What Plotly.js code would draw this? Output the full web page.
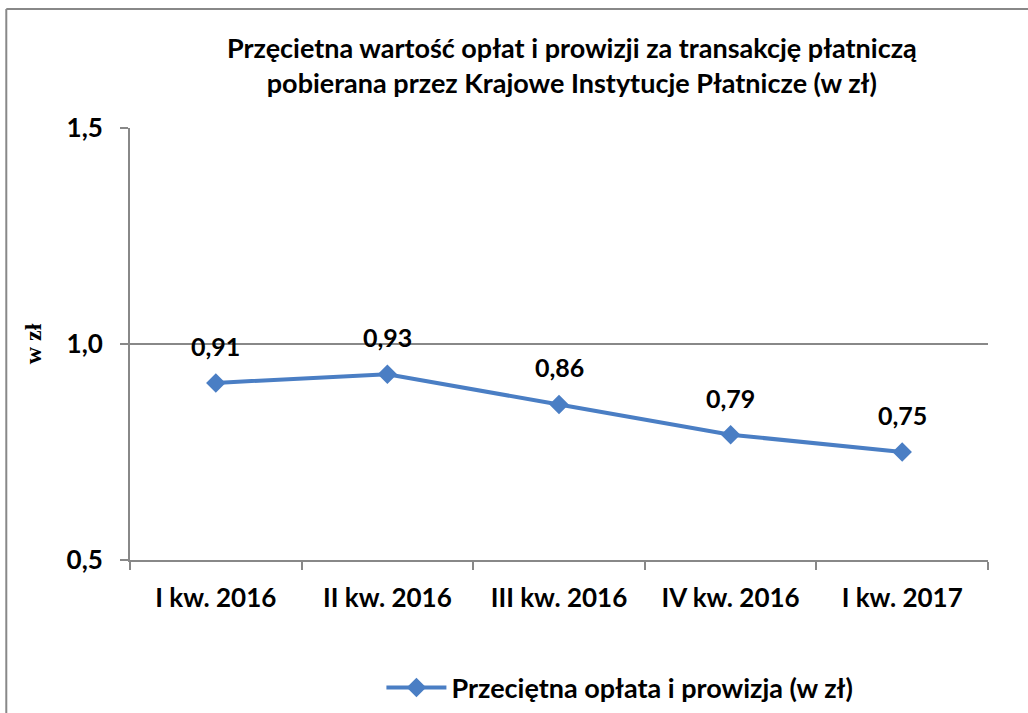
<!DOCTYPE html>
<html><head><meta charset="utf-8">
<script src="https://cdn.plot.ly/plotly-3.0.1.min.js"></script>
<style>html,body{margin:0;padding:0;background:#fff}#chart{width:1028px;height:713px}</style>
</head><body><div id="chart"></div>
<script>
const categories = ["I kw. 2016", "II kw. 2016", "III kw. 2016", "IV kw. 2016", "I kw. 2017"];
const values = [0.91, 0.93, 0.86, 0.79, 0.75];
const labels = ["0,91", "0,93", "0,86", "0,79", "0,75"];
const seriesName = "Przeciętna opłata i prowizja (w zł)";
const titleText = "Przęcietna wartość opłat i prowizji za transakcję płatniczą<br>pobierana przez Krajowe Instytucje Płatnicze (w zł)";
const yTitle = "w zł";

const blue = "#4A7EC4";
const font = "Lato, 'Open Sans', sans-serif";

const trace = {
  x: categories, y: values, type: "scatter", mode: "lines+markers",
  name: seriesName,
  line: {color: blue, width: 4},
  marker: {symbol: "diamond", size: 15, color: blue},
  hoverinfo: "none"
};

const annotations = categories.map((c, i) => ({
  x: c, y: values[i], xref: "x", yref: "y", text: "<b>" + labels[i] + "</b>",
  showarrow: false, yshift: 37, font: {family: font, size: 25, color: "#000"}
}));

const layout = {
  width: 1028, height: 713,
  margin: {l: 130, r: 40, t: 128, b: 153},
  paper_bgcolor: "#fff", plot_bgcolor: "#fff",
  title: {text: "<b>" + titleText + "</b>", x: 0.515, xanchor: "center", xref: "paper",
          y: 0.919, yanchor: "middle", yref: "container",
          font: {family: font, size: 27, color: "#000"}},
  xaxis: {type: "category", range: [-0.5, 4.5], autorange: false, showgrid: false, showline: true,
          linecolor: "#888", linewidth: 2, ticklabelstandoff: 14,
          ticks: "outside", tickson: "boundaries", ticklen: 8, tickcolor: "#888", tickwidth: 2,
          tickfont: {family: font, size: 26, color: "#000", weight: "bold"}, fixedrange: true},
  yaxis: {range: [0.5, 1.5], autorange: false, dtick: 0.5, tick0: 0.5, showgrid: true, gridcolor: "#888", gridwidth: 2,
          showline: true, linecolor: "#888", linewidth: 2, ticks: "outside", ticklen: 8,
          tickcolor: "#888", tickwidth: 2, zeroline: false, ticklabelstandoff: 12,
          tickformat: ".1f",
          tickfont: {family: font, size: 26, color: "#000", weight: "bold"},
          title: {text: "<b>" + yTitle + "</b>", standoff: 18,
                  font: {family: "'Liberation Serif', 'DejaVu Serif', serif", size: 24, color: "#000"}}},
  separators: ",.",
  showlegend: true,
  legend: {orientation: "h", x: 0.571, xanchor: "center", xref: "paper",
           y: 0.035, yanchor: "middle", yref: "container",
           font: {family: font, size: 27, color: "#000", weight: "bold"}, itemwidth: 60},
  annotations: annotations,
  shapes: [
    {type: "line", xref: "paper", yref: "paper", x0: -124/860, x1: 1.1, y0: 1 + 119/432, y1: 1 + 119/432,
     line: {color: "#888", width: 2}},
    {type: "line", xref: "paper", yref: "paper", x0: -124/860, x1: -124/860, y0: 1 + 119/432, y1: -0.4,
     line: {color: "#888", width: 2}}
  ]
};

Plotly.newPlot("chart", [trace], layout, {displayModeBar: false, staticPlot: true});
</script></body></html>
